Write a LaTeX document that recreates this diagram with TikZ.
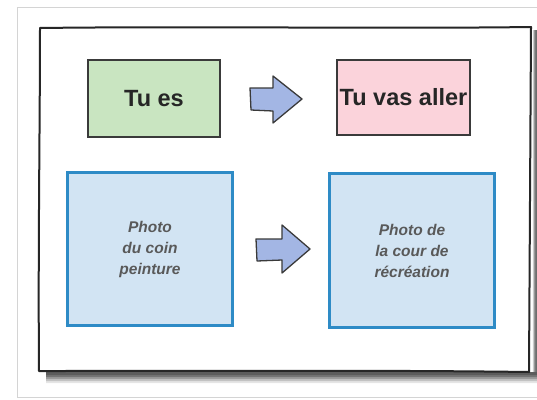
\documentclass[tikz,border=0pt]{standalone}
\usepackage{fontspec}
\setmainfont{Liberation Sans}
\usetikzlibrary{calc}
\definecolor{greenfill}{HTML}{C9E5C1}
\definecolor{pinkfill}{HTML}{FBD3DB}
\definecolor{bluefill}{HTML}{D2E4F3}
\definecolor{blueline}{HTML}{2E8BC6}
\definecolor{arrowfill}{HTML}{A3B6E4}
\definecolor{sketch}{HTML}{3A3A3A}
\definecolor{cardline}{HTML}{D4D4D4}
\tikzset{
  labelbox/.style={draw=sketch, line width=1.2pt, inner sep=0pt, font=\bfseries\fontsize{23.5}{27}\selectfont, text=black!85},
  photobox/.style={draw=blueline, fill=bluefill, line width=2.6pt, inner sep=0pt,
     font=\bfseries\itshape\fontsize{15.5}{21}\selectfont, text=black!65, align=center},
  blockarrow/.style={draw=sketch, fill=arrowfill, line width=1.3pt, line join=round},
}
\begin{document}
\begin{tikzpicture}[x=1pt,y=-1pt]
\useasboundingbox (0,0) rectangle (537,399);
\fill[white] (0,0) rectangle (537,399);
% outer card
\draw[cardline, line width=1pt] (537,7) -- (17,7) -- (17,397) -- (537,397);
% paper shadow
\foreach \o/\a in {11/0.10,9/0.15,7/0.2,5/0.25,3/0.2}{
  \fill[black, opacity=\a] (46,372) -- (531+\o*0.6,372) -- (531+\o*0.6,30) -- (537,30) -- (537,372+\o) -- (46,372+\o) -- cycle;
}
% paper
\draw[black!85, line width=2pt, fill=white, line join=round]
  (40,28) .. controls (200,26) and (380,29) .. (531,27)
  -- (529,372) .. controls (380,370) and (200,371) .. (39,371)
  .. controls (38,250) and (40,120) .. cycle;
% top boxes
\node[labelbox, fill=greenfill, minimum width=132pt, minimum height=77pt] (tues) at (154,98.5) {Tu es};
\node[labelbox, fill=pinkfill, minimum width=133pt, minimum height=75pt] (tuvas) at (403.5,97.5) {Tu vas aller};
% bottom boxes
\node[photobox, minimum width=165pt, minimum height=153pt] (coin) at (150,249) {Photo\\du coin\\peinture};
\node[photobox, minimum width=165pt, minimum height=154pt] (cour) at (412,250.5) {Photo de\\la cour de\\récréation};
% block arrows
\draw[blockarrow] (250,88) -- (273,88) -- (273,76) -- (302,99) -- (273,123) -- (273,111) -- (251,110) -- cycle;
\draw[blockarrow] (256,239) -- (282,239) -- (282,225) -- (310,249) -- (282,273) -- (282,260) -- (257,261) -- cycle;
\end{tikzpicture}
\end{document}
